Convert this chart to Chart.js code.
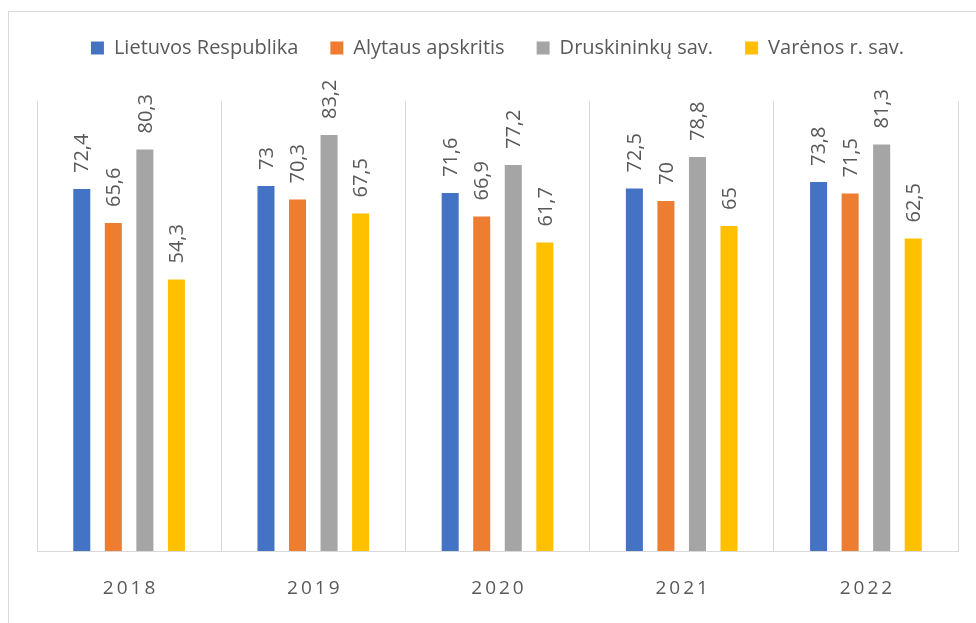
<!DOCTYPE html>
<html>
<head>
<meta charset="utf-8">
<script src="https://cdn.jsdelivr.net/npm/chart.js@4/dist/chart.umd.min.js"></script>
<style>
  html, body { margin: 0; padding: 0; background: #fff; overflow: hidden; }
  #frame { position: absolute; left: 8px; top: 11px; width: 1100px; height: 700px; border: 1px solid #d9d9d9; }
  #wrap { position: absolute; left: 0; top: 0; width: 976px; height: 623px; }
</style>
</head>
<body>
<div id="frame"></div>
<div id="wrap"><canvas id="chart" width="976" height="623"></canvas></div>
<script>
const years = ['2018', '2019', '2020', '2021', '2022'];
const seriesNames = ['Lietuvos Respublika', 'Alytaus apskritis', 'Druskininkų sav.', 'Varėnos r. sav.'];
const lietuva = [72.4, 73, 71.6, 72.5, 73.8];
const alytus = [65.6, 70.3, 66.9, 70, 71.5];
const druskininkai = [80.3, 83.2, 77.2, 78.8, 81.3];
const varena = [54.3, 67.5, 61.7, 65, 62.5];
const colors = ['#4472C4', '#ED7D31', '#A5A5A5', '#FFC000'];

const textColor = '#595959';
const fontFamily = "'Open Sans', 'Noto Sans', sans-serif";

// make the legend block reach down to the top of the plot
const legendSpace = {
    id: 'legendSpace',
    beforeInit(chart) {
        const fit = chart.legend.fit;
        chart.legend.fit = function () {
            fit.call(this);
            this.height = 95;
        };
    }
};

// values above bars, rotated, decimal comma
const barLabels = {
    id: 'barLabels',
    afterDatasetsDraw(chart) {
        const ctx = chart.ctx;
        ctx.save();
        ctx.fillStyle = textColor;
        ctx.font = '20px ' + fontFamily;
        ctx.textAlign = 'left';
        ctx.textBaseline = 'middle';
        chart.data.datasets.forEach((ds, i) => {
            chart.getDatasetMeta(i).data.forEach((bar, j) => {
                ctx.save();
                ctx.translate(bar.x + 1, bar.y - 16);
                ctx.rotate(-Math.PI / 2);
                ctx.fillText(String(ds.data[j]).replace('.', ','), 0, 0);
                ctx.restore();
            });
        });
        ctx.restore();
    }
};

// year labels with wide letter spacing
const yearLabels = {
    id: 'yearLabels',
    afterDraw(chart) {
        const ctx = chart.ctx;
        const x = chart.scales.x;
        ctx.save();
        ctx.fillStyle = textColor;
        ctx.font = '19px ' + fontFamily;
        ctx.letterSpacing = '3px';
        ctx.textAlign = 'center';
        ctx.textBaseline = 'middle';
        years.forEach((y, i) => {
            ctx.fillText(y, x.getPixelForTick(i) + 1.5, 589);
        });
        ctx.restore();
    }
};

const ctx = document.getElementById('chart').getContext('2d');
const chart = new Chart(ctx, {
    type: 'bar',
    data: {
        labels: years,
        datasets: [
            { label: seriesNames[0], data: lietuva, backgroundColor: colors[0] },
            { label: seriesNames[1], data: alytus, backgroundColor: colors[1] },
            { label: seriesNames[2], data: druskininkai, backgroundColor: colors[2] },
            { label: seriesNames[3], data: varena, backgroundColor: colors[3] }
        ]
    },
    options: {
        responsive: false,
        animation: false,
        layout: { padding: { left: 37, right: 18, top: 6, bottom: 72 } },
        datasets: { bar: { barPercentage: 0.54, categoryPercentage: 0.685 } },
        plugins: {
            legend: {
                display: true,
                position: 'top',
                labels: {
                    boxWidth: 13,
                    boxHeight: 13,
                    padding: 32,
                    color: textColor,
                    font: { size: 20, family: fontFamily }
                }
            },
            tooltip: { enabled: false }
        },
        scales: {
            x: {
                offset: true,
                grid: { display: true, offset: true, color: '#d9d9d9', drawTicks: false },
                border: { display: true, color: '#d9d9d9' },
                ticks: { display: false }
            },
            y: {
                display: false,
                min: 0,
                max: 90
            }
        }
    },
    plugins: [legendSpace, barLabels, yearLabels]
});
</script>
</body>
</html>
